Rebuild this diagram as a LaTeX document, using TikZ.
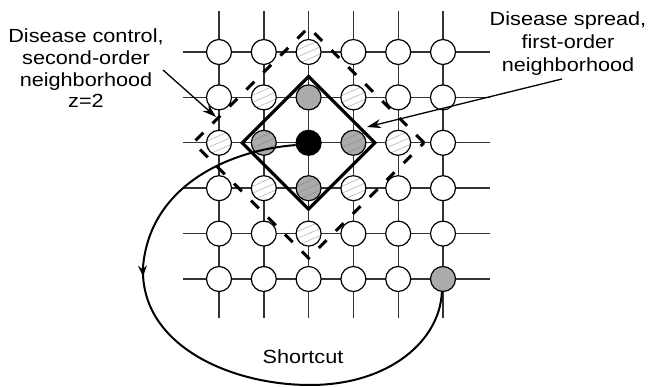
\documentclass[tikz,border=0pt]{standalone}
\usepackage{fontspec}
\setmainfont[FakeStretch=1.14]{Liberation Sans}
\usetikzlibrary{arrows.meta,decorations.markings,shapes.geometric}
\begin{document}
\begin{tikzpicture}[x=1pt,y=-1pt,
  gridline/.style={draw=black!80, line width=1.4pt},
  site/.style={circle, draw=black, line width=1.2pt, fill=white, minimum size=25pt, inner sep=0pt},
  hatchsite/.style={site, path picture={\foreach \k in {-3,...,3}{\draw[black!28, line width=0.6pt] ([shift={(-16,{\k*7+7})}]path picture bounding box.center) -- ++(32,-14);}}},
  graysite/.style={site, fill=black!33},
  grayhatch/.style={site, fill=black!33, path picture={\foreach \k in {-3,...,3}{\draw[black!45, line width=0.5pt] ([shift={(-16,{\k*7+7})}]path picture bounding box.center) -- ++(32,-14);}}},
  blacksite/.style={site, fill=black},
  firstord/.style={diamond, draw=black, line width=3.2pt, minimum width=134pt, minimum height=134pt, inner sep=0pt},
  secondord/.style={diamond, draw=black, line width=3pt, dash pattern=on 11pt off 13pt, minimum width=232pt, minimum height=232pt, inner sep=0pt},
  lbl/.style={anchor=base, inner sep=0pt, font=\fontsize{19}{22}\selectfont},
  labelarrow/.style={draw=black, line width=1.3pt, -{Stealth[length=14pt,width=9pt]}},
  shortcut/.style={draw=black, line width=2pt, postaction={decorate}, decoration={markings, mark=at position 0.36 with {\arrow{Stealth[length=11pt,width=9pt,inset=4pt]}}}}
]
\useasboundingbox (0,0) rectangle (649,387);
% lattice
\foreach \k in {0,...,5}{
  \draw[gridline] (183,{52+45.4*\k}) -- (490,{52+45.4*\k});
  \draw[gridline] ({219+44.8*\k},11) -- ({219+44.8*\k},318);
}
% sites
\foreach \i/\j/\s in {
  0/0/site, 1/0/site, 2/0/hatchsite, 3/0/site, 4/0/site, 5/0/site,
  0/1/site, 1/1/hatchsite, 2/1/graysite, 3/1/hatchsite, 4/1/site, 5/1/site,
  0/2/hatchsite, 1/2/grayhatch, 2/2/blacksite, 3/2/grayhatch, 4/2/hatchsite, 5/2/site,
  0/3/site, 1/3/hatchsite, 2/3/grayhatch, 3/3/hatchsite, 4/3/site, 5/3/site,
  0/4/site, 1/4/site, 2/4/hatchsite, 3/4/site, 4/4/site, 5/4/site,
  0/5/site, 1/5/site, 2/5/site, 3/5/site, 4/5/site, 5/5/graysite}{
  \node[\s] (c\i\j) at ({219+44.8*\i},{52+45.4*\j}) {};
}
% neighbourhoods
\node[firstord] (first) at (c22) {};
\node[secondord] (second) at (c22) {};
% labels
\node[lbl] (lc1) at (86,43) {Disease control,};
\node[lbl] (lc2) at (86,65) {second-order};
\node[lbl] (lc3) at (86,87) {neighborhood};
\node[lbl] (lc4) at (86,108) {z=2};
\node[lbl] (rs1) at (568,26) {Disease spread,};
\node[lbl] (rs2) at (568,49) {first-order};
\node[lbl] (rs3) at (568,72) {neighborhood};
\node[lbl] (sc) at (303,364) {Shortcut};
% label arrows
\coordinate (lstart) at (163,70);
\coordinate (ltip) at (216,117);
\coordinate (rstart) at (562,79);
\coordinate (rtip) at (367,127);
\draw[labelarrow] (lstart) -- (ltip);
\draw[labelarrow] (rstart) -- (rtip);
% shortcut
\draw[shortcut] (c22.190) .. controls (230,150) and (150,185) .. (143,267)
  .. controls (140,345) and (230,385) .. (310,385)
  .. controls (390,385) and (440,340) .. (c55.265);
\end{tikzpicture}
\end{document}
